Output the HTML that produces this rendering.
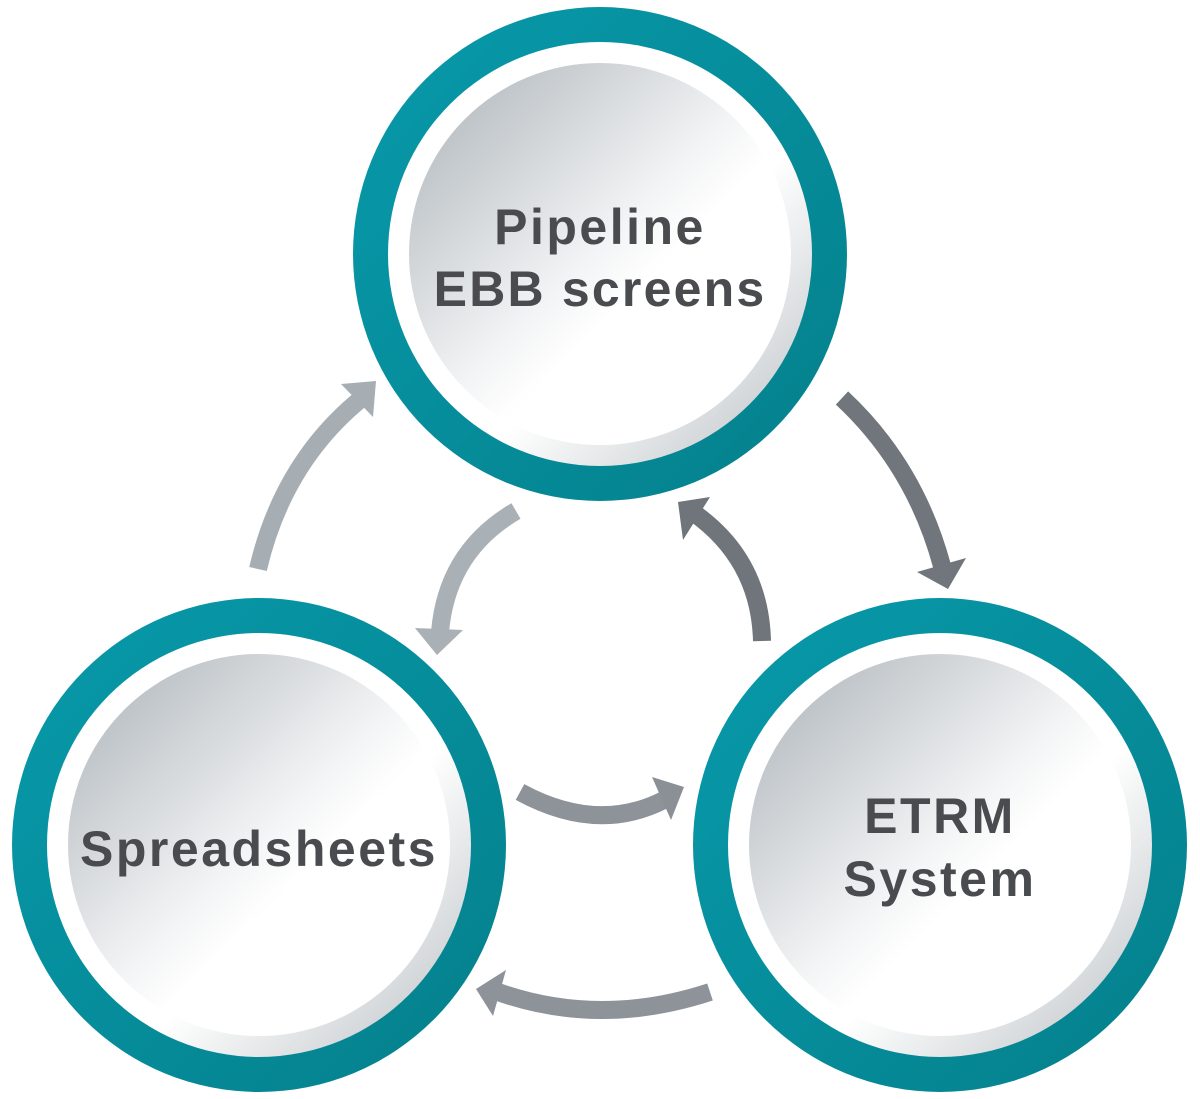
<!DOCTYPE html>
<html><head><meta charset="utf-8"><style>
html,body{margin:0;padding:0;background:#fff;}
svg{display:block;}
text{font-family:"Liberation Sans",sans-serif;font-weight:bold;fill:#4a4b4f;text-anchor:middle;}
</style></head><body>
<svg width="1200" height="1099" viewBox="0 0 1200 1099" xmlns="http://www.w3.org/2000/svg">
<defs>
<linearGradient id="teal" x1="0" y1="0" x2="1" y2="1">
<stop offset="0" stop-color="#089aab"/><stop offset="1" stop-color="#04808b"/></linearGradient>
<linearGradient id="ring" x1="0" y1="0" x2="1" y2="1">
<stop offset="0" stop-color="#fff"/><stop offset="0.6" stop-color="#fff"/><stop offset="1" stop-color="#b9bfc3"/></linearGradient>
<linearGradient id="disc" x1="0.1" y1="0.1" x2="0.9" y2="0.9">
<stop offset="0" stop-color="#b8bec3"/><stop offset="0.5" stop-color="#f4f5f6"/><stop offset="0.62" stop-color="#fff"/><stop offset="1" stop-color="#fff"/></linearGradient>
<g id="node">
<circle r="247" fill="url(#teal)"/>
<circle r="212" fill="url(#ring)"/>
<circle r="191" fill="url(#disc)"/>
</g>
</defs>
<use href="#node" x="600" y="254"/>
<use href="#node" x="259" y="845"/>
<use href="#node" x="940" y="845"/>

<g fill="none" stroke-width="18">
<path d="M258 569 Q283 462 362 398" stroke="#a6adb3"/>
<path d="M842 398 Q915 466 942 566" stroke="#70767c"/>
<path d="M516 511 Q447 551 440 632" stroke="#a9b0b6"/>
<path d="M762 641 Q760 560 694 513" stroke="#6f757b"/>
<path d="M520 792 Q597 834 664 800" stroke="#8d9399"/>
<path d="M710 992 Q600 1028 498 992" stroke="#8d9399"/>
</g>
<polygon points="376,381 341,384 373,417" fill="#a6adb3"/>
<polygon points="948,589 917,572 966,558" fill="#70767c"/>
<polygon points="415,628 463,630 437,655" fill="#a9b0b6"/>
<polygon points="678,502 710,497 683,540" fill="#6f757b"/>
<polygon points="652,777 684,787 671,820" fill="#8a9096"/>
<polygon points="476,989 506,970 493,1016" fill="#8d9399"/>

<text x="600" y="244" font-size="50" letter-spacing="2.5">Pipeline</text>
<text x="600" y="306" font-size="50" letter-spacing="2.2">EBB screens</text>
<text x="259" y="866" font-size="50" letter-spacing="2.5">Spreadsheets</text>
<text x="940" y="833" font-size="50" letter-spacing="2.5">ETRM</text>
<text x="940" y="896" font-size="50" letter-spacing="2.5">System</text>
</svg>
</body></html>
